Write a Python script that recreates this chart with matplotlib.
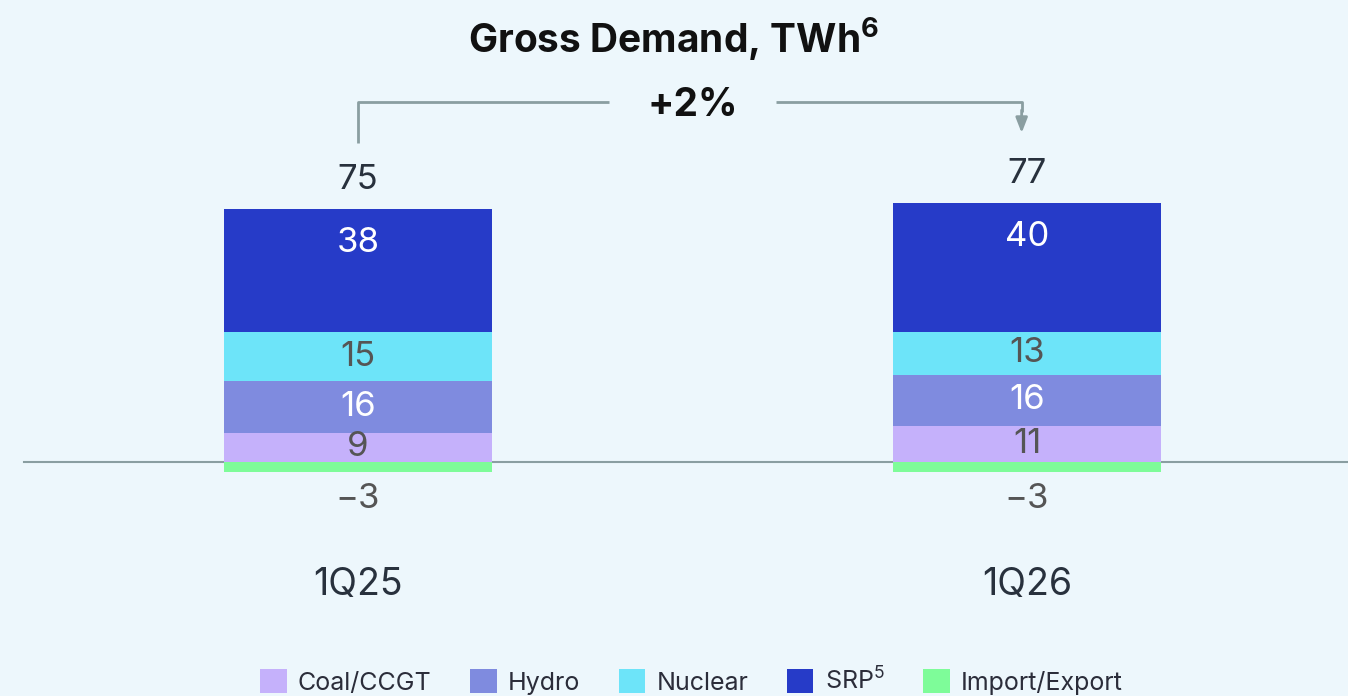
import matplotlib
matplotlib.use("Agg")
import matplotlib.pyplot as plt
from matplotlib.patches import Patch
import numpy as np

categories = ["1Q25", "1Q26"]
series_names = ["Coal/CCGT", "Hydro", "Nuclear", "SRP$^{5}$", "Import/Export"]
coal = [9, 11]
hydro = [16, 16]
nuclear = [15, 13]
srp = [38, 40]
import_export = [-3, -3]
totals = [75, 77]
growth_label = "+2%"
title = "Gross Demand, TWh$^{\\mathbf{6}}$"

colors = ["#C5B1FB", "#7F8BDF", "#6DE4F9", "#263BC8", "#7EFC99"]
label_colors = ["#555555", "#FFFFFF", "#555555", "#FFFFFF"]
bg = "#EDF7FC"
line_c = "#8A9EA1"
text_c = "#28313D"

FONT = 'Inter'
plt.rcParams['font.family'] = [FONT, 'DejaVu Sans']
plt.rcParams['mathtext.fontset'] = 'custom'
plt.rcParams['mathtext.rm'] = FONT
plt.rcParams['mathtext.bf'] = FONT + ':bold'

W, H = 1348, 696
fig = plt.figure(figsize=(W/100, H/100), dpi=100, facecolor=bg)
ax = fig.add_axes([0, 0, 1, 1])
ax.set_facecolor(bg)

sx = 669.0
sy = 3.24
ax.set_xlim(-358/sx, (W-358)/sx)
ax.set_ylim(-(H-462)/sy, 462/sy)
ax.axis("off")

x = np.arange(len(categories))
width = 0.4
bottom = np.zeros(len(categories))
pos_series = [coal, hydro, nuclear, srp]
for k, (vals, col, lc) in enumerate(zip(pos_series, colors[:4], label_colors)):
    vals = np.array(vals, dtype=float)
    ax.bar(x, vals, width, bottom=bottom, color=col, zorder=2)
    for xi, b, v in zip(x, bottom, vals):
        ypos = b + v/2 if k < 3 else b + v - 10.5
        ax.text(xi, ypos, f"{int(v)}", ha="center", va="center",
                fontsize=25, color=lc, zorder=3)
    bottom += vals
ax.bar(x, import_export, width, color=colors[4], zorder=2)
for xi, v in zip(x, import_export):
    ax.text(xi, v - 8.5, f"\u2212{abs(v)}", ha="center", va="center",
            fontsize=25, color="#555555")

ax.axhline(0, xmin=24/W, xmax=1, color=line_c, lw=1.5, zorder=1)

for xi, top, t in zip(x, bottom, totals):
    ax.text(xi, top + 9.0, f"{t}", ha="center", va="center", fontsize=25, color=text_c)

for xi, c in zip(x, categories):
    ax.text(xi, -38.0, c, ha="center", va="center", fontsize=27, color=text_c)

# growth arrow
y_h = (462 - 102) / sy
mid = 0.5
gap = 0.125
ax.plot([x[0], x[0], mid - gap], [(462 - 143) / sy, y_h, y_h],
        color=line_c, lw=2, solid_capstyle="butt")
ax.plot([mid + gap, x[1] - 0.008, x[1] - 0.008], [y_h, y_h, y_h - 3],
        color=line_c, lw=2, solid_capstyle="butt")
ax.annotate("", xy=(x[1] - 0.008, (462 - 133) / sy), xytext=(x[1] - 0.008, y_h - 2.5),
            arrowprops=dict(arrowstyle="-|>,head_length=0.9,head_width=0.35",
                            color=line_c, lw=2, shrinkA=0, shrinkB=0))
ax.text(mid, y_h - 1.0, growth_label, ha="center", va="center",
        fontsize=28, fontweight="bold", color="#111111")

fig.text(0.5, 1 - 38/H, title, ha="center", va="center", fontsize=28,
         fontweight="bold", color="#111111")

handles = [Patch(facecolor=c, edgecolor="none") for c in colors]
leg = fig.legend(handles, series_names, loc="center", bbox_to_anchor=(0.513, 1 - 681/H),
                 ncol=5, frameon=False, fontsize=18, handlelength=1.05, handleheight=1.05,
                 handletextpad=0.45, columnspacing=1.55, labelcolor="#2B2D3A")

fig.savefig("out.png", dpi=100, facecolor=bg)
